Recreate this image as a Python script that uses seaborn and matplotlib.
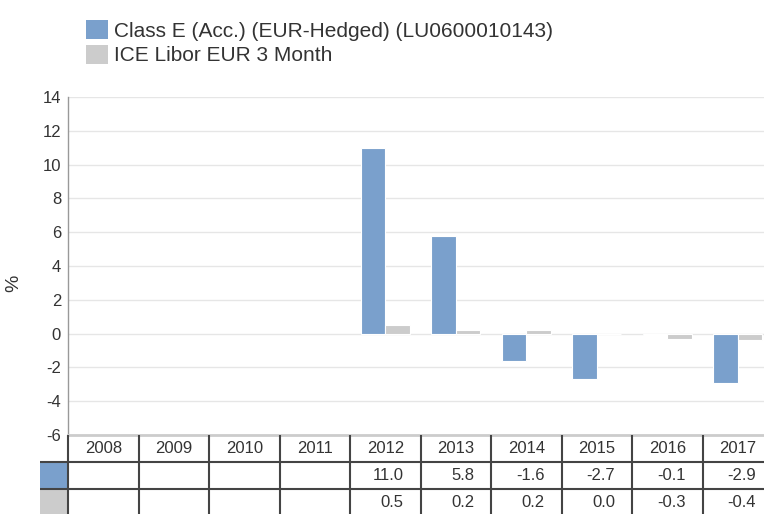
import numpy as np
import pandas as pd
import matplotlib
matplotlib.use("Agg")
import matplotlib.pyplot as plt
import seaborn as sns
from matplotlib.patches import Rectangle, Patch

years = ["2008", "2009", "2010", "2011", "2012", "2013", "2014", "2015", "2016", "2017"]
fund_name = "Class E (Acc.) (EUR-Hedged) (LU0600010143)"
bench_name = "ICE Libor EUR 3 Month"
fund_values = [np.nan, np.nan, np.nan, np.nan, 11.0, 5.8, -1.6, -2.7, -0.1, -2.9]
bench_values = [np.nan, np.nan, np.nan, np.nan, 0.5, 0.2, 0.2, 0.0, -0.3, -0.4]
y_ticks = [-6, -4, -2, 0, 2, 4, 6, 8, 10, 12, 14]

blue = "#7aa0cc"
grey = "#cccccc"
text_col = "#333333"

sns.set_theme(style="white")
plt.rcParams["font.family"] = ["Liberation Sans", "DejaVu Sans"]

df = pd.DataFrame({
    "year": years * 2,
    "value": fund_values + bench_values,
    "series": [fund_name] * len(years) + [bench_name] * len(years),
})

W, H = 764, 514
fig = plt.figure(figsize=(W / 100, H / 100), dpi=100)
left_px, right_px, top_px, bot_px = 68, 773, 97, 435
ax_w = right_px - left_px
ax_h = bot_px - top_px
ax = fig.add_axes([left_px / W, 1 - bot_px / H, ax_w / W, ax_h / H])

sns.barplot(data=df, x="year", y="value", hue="series", order=years,
            hue_order=[fund_name, bench_name], palette=[blue, grey], saturation=1,
            width=0.7, edgecolor="white", linewidth=0.8, ax=ax, legend=False, errorbar=None)

ax.set_xlim(-0.5, 9.5)
ax.set_ylim(-6, 14)
ax.set_yticks(y_ticks)
ax.set_yticklabels([str(t) for t in y_ticks], fontsize=12, color=text_col)
ax.tick_params(axis="y", length=0, pad=5)
ax.set_xticks([])
ax.set_xlabel("")
ax.set_ylabel("%", fontsize=14, color=text_col)
ax.yaxis.set_label_coords((22 - left_px) / ax_w, (bot_px - 283) / ax_h)
ax.yaxis.grid(True, color="#e6e6e6", linewidth=1)
ax.set_axisbelow(True)
for s in ["top", "right"]:
    ax.spines[s].set_visible(False)
ax.spines["left"].set_color("#999999")
ax.spines["left"].set_linewidth(1)
ax.spines["bottom"].set_color("#cccccc")
ax.spines["bottom"].set_linewidth(2)

# legend
handles = [Patch(facecolor=blue, edgecolor="none"), Patch(facecolor=grey, edgecolor="none")]
fig.legend(handles, [fund_name, bench_name], loc="upper left",
           bbox_to_anchor=(67 / W, 1 - 1 / H), frameon=False, fontsize=15,
           handlelength=1.05, handleheight=1.05, handletextpad=0.3, labelspacing=0.2,
           labelcolor=text_col)

# table below
row_h = 27
tax = fig.add_axes([left_px / W, 1 - (bot_px + 3 * row_h) / H, ax_w / W, 3 * row_h / H])
tax.set_xlim(-0.5, 9.5)
tax.set_ylim(3, 0)
tax.axis("off")
line_col = "#444444"
sw = 28 / (ax_w / 10)
pad = 17 / (ax_w / 10)
for k in range(11):
    tax.plot([k - 0.5, k - 0.5], [0, 3], color=line_col, lw=1.5, clip_on=False, solid_capstyle="butt")
for r in [1, 2]:
    tax.plot([-0.5 - sw, 9.5], [r, r], color=line_col, lw=1.5, clip_on=False, solid_capstyle="butt")
tax.add_patch(Rectangle((-0.5 - sw, 1.03), sw - 0.02, 0.94, facecolor=blue, edgecolor="none", clip_on=False))
tax.add_patch(Rectangle((-0.5 - sw, 2.03), sw - 0.02, 1.0, facecolor=grey, edgecolor="none", clip_on=False))
for i, y in enumerate(years):
    tax.text(i, 0.5, y, ha="center", va="center", fontsize=12, color=text_col)
    if not np.isnan(fund_values[i]):
        tax.text(i + 0.5 - pad, 1.5, f"{fund_values[i]:.1f}", ha="right", va="center", fontsize=12, color=text_col)
    if not np.isnan(bench_values[i]):
        tax.text(i + 0.5 - pad, 2.5, f"{bench_values[i]:.1f}", ha="right", va="center", fontsize=12, color=text_col)

fig.savefig("out.png", dpi=100, facecolor="white")
